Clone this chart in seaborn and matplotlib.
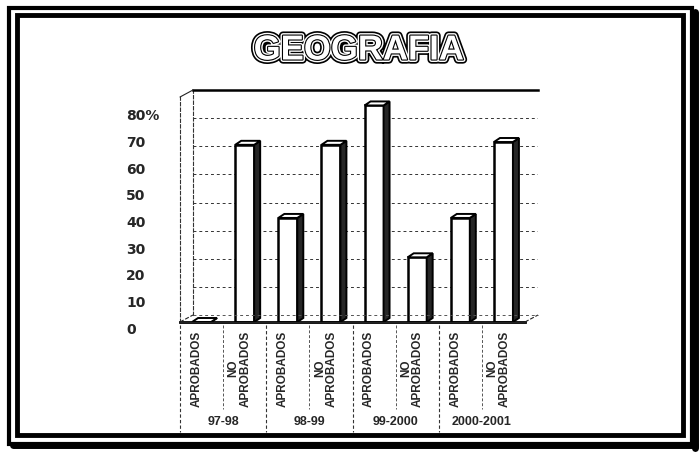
"""
GEOGRAFIA - porcentaje de aprobados / no aprobados por ciclo escolar.

3D-style column chart (front face from seaborn, side/top faces added
from the bar patches) inside a double frame, saved to out.png.
"""

import matplotlib
matplotlib.use("Agg")
import matplotlib.pyplot as plt
import pandas as pd
import seaborn as sns
from matplotlib import font_manager
from matplotlib import patheffects as pe
from matplotlib.lines import Line2D
from matplotlib.patches import Polygon, Rectangle
from matplotlib.transforms import ScaledTranslation

YEARS = ["97-98", "98-99", "99-2000", "2000-2001"]
STATUS = ["APROBADOS", "NO\nAPROBADOS"]
APROBADOS = [0, 37, 77, 37]
NO_APROBADOS = [63, 63, 23, 64]
Y_TICKS = [0, 10, 20, 30, 40, 50, 60, 70, 80]
Y_LABELS = ["0", "10", "20", "30", "40", "50", "60", "70", "80%"]

W, H = 699, 454


def box(left, top, right, bottom):
    """Pixel box (top-left origin) -> figure fraction rect."""
    return [left / W, 1 - bottom / H, (right - left) / W, (bottom - top) / H]


rows = []
for year, a, n in zip(YEARS, APROBADOS, NO_APROBADOS):
    rows.append({"key": f"{year} A", "value": a})
    rows.append({"key": f"{year} N", "value": n})
df = pd.DataFrame(rows)
order = list(df["key"])
tick_text = [s for _ in YEARS for s in STATUS]

sns.set_theme(style="white")
plt.rcParams["font.family"] = ["Liberation Sans", "DejaVu Sans"]

installed = {f.name for f in font_manager.fontManager.ttflist}
if "Liberation Sans Narrow" in installed:
    title_family, title_size = "Liberation Sans Narrow", 29
else:
    title_family, title_size = "Liberation Sans", 25

fig = plt.figure(figsize=(W / 100, H / 100), dpi=100)

# back wall (gridlines) and front plane (bars), offset for the 3D look
wall = fig.add_axes(box(193, 90, 538, 315))
ax = fig.add_axes(box(180, 97, 525, 322))
lab = fig.add_axes(box(125, 115, 126, 328))

wall.set_xlim(-0.5, 7.5)
wall.set_ylim(0, 80)
wall.set_yticks(Y_TICKS)
wall.set_xticks([])
wall.tick_params(axis="y", length=0, labelleft=False)
wall.grid(axis="y", color="#333333", linewidth=0.7, linestyle=(0, (3, 3)))
for side in ("right", "bottom"):
    wall.spines[side].set_visible(False)
wall.spines["top"].set_linewidth(1.8)
wall.spines["top"].set_color("black")
wall.spines["left"].set_linestyle((0, (3, 2)))
wall.spines["left"].set_linewidth(0.8)
wall.spines["left"].set_color("#333333")

sns.barplot(
    data=df, x="key", y="value", order=order, color="white",
    saturation=1, edgecolor="black", linewidth=1.8, width=0.44, ax=ax,
)
ax.patch.set_alpha(0)
ax.set_xlim(-0.5, 7.5)
ax.set_ylim(0, 80)
ax.set_yticks([])
ax.set_xlabel("")
ax.set_ylabel("")
ax.set_xticks(range(len(order)))
ax.set_xticklabels(tick_text, rotation=90, fontsize=8.5, fontweight="bold",
                   linespacing=1.0)
ax.tick_params(axis="x", length=0, pad=6)
shift = ScaledTranslation(-5 / 100, 0, fig.dpi_scale_trans)
for t in ax.get_xticklabels():
    t.set_transform(t.get_transform() + shift)
for side in ("top", "right"):
    ax.spines[side].set_visible(False)
ax.spines["bottom"].set_linewidth(2)
ax.spines["bottom"].set_color("black")
ax.spines["left"].set_linestyle((0, (3, 2)))
ax.spines["left"].set_linewidth(0.8)
ax.spines["left"].set_color("#333333")

# side and top faces of each column
a_pos = ax.get_position()
px_per_cat = a_pos.width * W / len(order)
px_per_unit = a_pos.height * H / 80
ddx = 6 / px_per_cat
ddy = 4 / px_per_unit
for p in list(ax.patches)[: len(order)]:
    x0, w, h = p.get_x(), p.get_width(), p.get_height()
    side = Polygon([(x0 + w, 0), (x0 + w + ddx, ddy), (x0 + w + ddx, h + ddy),
                    (x0 + w, h)], closed=True, facecolor="#262626",
                   edgecolor="black", linewidth=1.4, zorder=p.get_zorder())
    top = Polygon([(x0, h), (x0 + ddx, h + ddy), (x0 + w + ddx, h + ddy),
                   (x0 + w, h)], closed=True, facecolor="white",
                  edgecolor="black", linewidth=1.4, zorder=p.get_zorder() + 0.1)
    ax.add_patch(side)
    ax.add_patch(top)

# floor / left wall edges joining the front plane to the back wall
b_pos = wall.get_position()
edges = [
    ((a_pos.x0, b_pos.x0), (a_pos.y0, b_pos.y0), "--"),
    ((a_pos.x0, b_pos.x0), (a_pos.y1, b_pos.y1), "-"),
    ((a_pos.x1, b_pos.x1), (a_pos.y0, b_pos.y0), "--"),
    ((a_pos.x0, a_pos.x1), (a_pos.y0, a_pos.y0), "-"),
]
for xs, ys, ls in edges:
    fig.add_artist(Line2D(xs, ys, transform=fig.transFigure, color="#222222",
                          linewidth=0.8, linestyle=ls))
fig.add_artist(Line2D((b_pos.x0, b_pos.x1), (b_pos.y0, b_pos.y0),
                      transform=fig.transFigure, color="#555555",
                      linewidth=0.7, linestyle=(0, (3, 3))))

# category dividers and year labels below the axis
xt = ax.get_xaxis_transform()
for i in range(len(YEARS)):
    ax.add_line(Line2D([2 * i - 0.5] * 2, [-0.015, -0.49], transform=xt,
                       color="#333333", linewidth=0.8, linestyle=(0, (3, 2)),
                       clip_on=False))
    ax.add_line(Line2D([2 * i + 0.5] * 2, [-0.015, -0.385], transform=xt,
                       color="#555555", linewidth=0.7, linestyle=(0, (3, 2)),
                       clip_on=False))
    ax.text(2 * i + 0.5, -0.445, YEARS[i], transform=xt, ha="center",
            va="center", fontsize=9, fontweight="bold")

# y labels (they sit on their own scale, as in the original sheet)
lab.set_ylim(0, 80)
lab.set_yticks(Y_TICKS, Y_LABELS)
lab.set_xticks([])
lab.yaxis.tick_right()
lab.tick_params(axis="y", length=0, pad=0)
for t in lab.get_yticklabels():
    t.set_fontweight("bold")
    t.set_fontsize(10)
    t.set_family("DejaVu Sans")
for s in lab.spines.values():
    s.set_visible(False)
lab.patch.set_alpha(0)

# outlined title with a small drop shadow
fig.text(359 / W, 1 - 50 / H, "GEOGRAFIA", ha="center", va="center",
         fontsize=title_size, fontweight="bold", color="white",
         family=title_family,
         path_effects=[pe.SimplePatchShadow(offset=(2, -2), shadow_rgbFace="black",
                                            alpha=0.7),
                       pe.Stroke(linewidth=6, foreground="black"),
                       pe.Stroke(linewidth=3.6, foreground="white"),
                       pe.Stroke(linewidth=1.6, foreground="black"),
                       pe.Normal()])

# double frame
fig.add_artist(Rectangle((9 / W, 1 - 444 / H), 683 / W, 436 / H,
                         transform=fig.transFigure, fill=False,
                         edgecolor="black", linewidth=3))
fig.add_artist(Rectangle((17 / W, 1 - 435 / H), 666 / W, 420 / H,
                         transform=fig.transFigure, fill=False,
                         edgecolor="black", linewidth=3.5))
fig.add_artist(Line2D((695 / W, 695 / W), (1 - 12 / H, 1 - 448 / H),
                      transform=fig.transFigure, color="black", linewidth=5))
fig.add_artist(Line2D((13 / W, 695 / W), (1 - 445 / H, 1 - 445 / H),
                      transform=fig.transFigure, color="black", linewidth=5))

fig.savefig("out.png", dpi=100)
plt.close(fig)
